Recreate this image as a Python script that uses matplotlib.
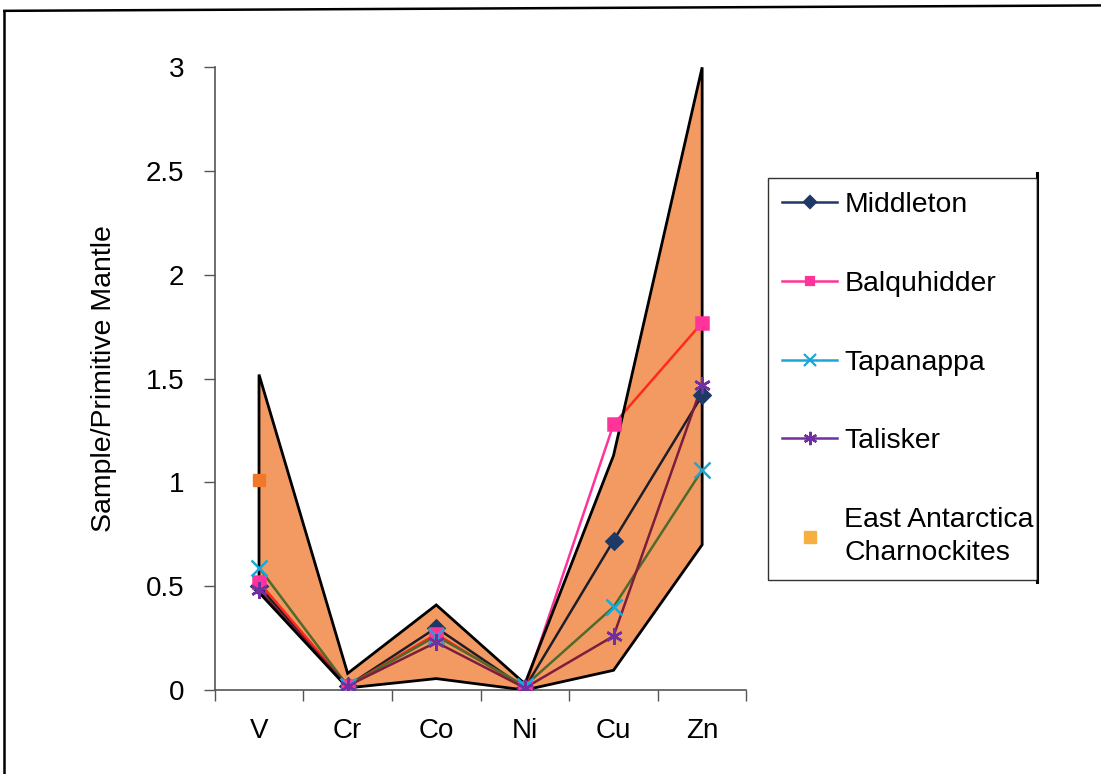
import numpy as np
import matplotlib
matplotlib.use("Agg")
from matplotlib import pyplot as plt
from matplotlib.lines import Line2D
from matplotlib.patches import Polygon

plt.rcParams["font.family"] = ["Liberation Sans", "DejaVu Sans"]

# normalised trace element data (sample / primitive mantle)
elements = ["V", "Cr", "Co", "Ni", "Cu", "Zn"]
middleton = [0.50, 0.02, 0.30, 0.01, 0.72, 1.42]
balquhidder = [0.52, 0.02, 0.27, 0.01, 1.28, 1.77]
tapanappa = [0.59, 0.02, 0.26, 0.02, 0.40, 1.06]
talisker = [0.48, 0.02, 0.23, 0.01, 0.26, 1.47]
charnockites = [1.01, np.nan, np.nan, np.nan, np.nan, np.nan]

# range envelope of the East Antarctica charnockites
band_upper = [1.52, 0.08, 0.41, 0.03, 1.13, 3.00]
band_lower = [0.47, 0.01, 0.055, 0.00, 0.095, 0.70]

x = np.arange(len(elements))

fig = plt.figure(figsize=(11.01, 7.74), dpi=100)
ax = fig.add_axes([0.195, 0.1085, 0.483, 0.8045])

# name, values, colour, colour seen through the envelope, marker, size
series = [
    ("Middleton", middleton, "#1F3864", "#1E1E28", "D", 8),
    ("Balquhidder", balquhidder, "#FF3399", "#FF2A1A", "s", 8),
    ("Tapanappa", tapanappa, "#1AA7D8", "#4F6A2A", "x", 11),
    ("Talisker", talisker, "#7030A0", "#7A1E3C", (6, 2, 0), 12),
]

px = np.r_[x, x[::-1]]
py = np.r_[band_upper, band_lower[::-1]]
band = Polygon(np.c_[px, py], closed=True, facecolor="#F39A63", lw=0, zorder=3)
ax.add_patch(band)

for name, vals, col, inner, mk, ms in series:
    ax.plot(x, vals, color=col, lw=1.8, zorder=2)
    seen, = ax.plot(x, vals, color=inner, lw=1.8, zorder=3.5)
    seen.set_clip_path(band)
    ax.plot(x, vals, ls="none", marker=mk, ms=ms, mfc=col, mec=col, mew=1.8, zorder=5)

ax.plot(x, charnockites, ls="none", marker="s", ms=9, mfc="#F07828", mec="#F07828", zorder=5)

ax.add_patch(Polygon(np.c_[px, py], closed=True, fill=False, edgecolor="black", lw=2, zorder=4))

ax.set_xlim(-0.5, 5.5)
ax.set_ylim(0, 3)
ax.set_yticks([0, 0.5, 1, 1.5, 2, 2.5, 3])
ax.set_yticklabels(["0", "0.5", "1", "1.5", "2", "2.5", "3"])
ax.set_xticks(np.arange(-0.5, 6, 1))
ax.set_xticklabels([])
ax.set_xticks(x, minor=True)
ax.set_xticklabels(elements, minor=True)
ax.tick_params(axis="x", which="major", direction="out", length=8, width=1, color="#555555")
ax.tick_params(axis="x", which="minor", length=0, pad=20, labelsize=20)
ax.tick_params(axis="y", direction="out", length=8, width=1, color="#555555", pad=14, labelsize=20)

for side in ("top", "right"):
    ax.spines[side].set_visible(False)
for side in ("left", "bottom"):
    ax.spines[side].set_color("#555555")
    ax.spines[side].set_linewidth(1.2)

ax.set_ylabel("Sample/Primitive Mantle", fontsize=20.5)
ax.yaxis.set_label_coords(-0.183, 0.5)

# legend handles
handles = [
    Line2D([], [], color=col, lw=1.8, marker=mk, ms=ms * 0.8, mfc=col, mec=col, mew=1.6)
    for _, _, col, _, mk, ms in series
]
handles.append(Line2D([], [], ls="none", marker="s", ms=8, mfc="#F5B041", mec="#F5B041"))
labels = [s[0] for s in series] + ["East Antarctica\nCharnockites"]

leg = fig.legend(
    handles, labels,
    loc="upper left",
    bbox_to_anchor=(0.6975, 0.0, 0.2443, 0.77),
    mode="expand",
    fontsize=20.4,
    frameon=True,
    fancybox=False,
    edgecolor="black",
    handlelength=1.95,
    handletextpad=0.25,
    labelspacing=1.86,
    borderpad=0.5,
    borderaxespad=0,
)
leg.get_frame().set_linewidth(1.0)
for t in leg.get_texts():
    t.set_linespacing(1.35)

# page frame lines around the chart
fig.add_artist(Line2D([0.942, 0.942], [0.248, 0.776], color="black", lw=2.2))
fig.add_artist(Line2D([0.004, 1.0], [0.986, 0.993], color="black", lw=1.8))
fig.add_artist(Line2D([0.004, 0.004], [0.0, 0.986], color="black", lw=1.8))

fig.savefig("out.png", dpi=100)
